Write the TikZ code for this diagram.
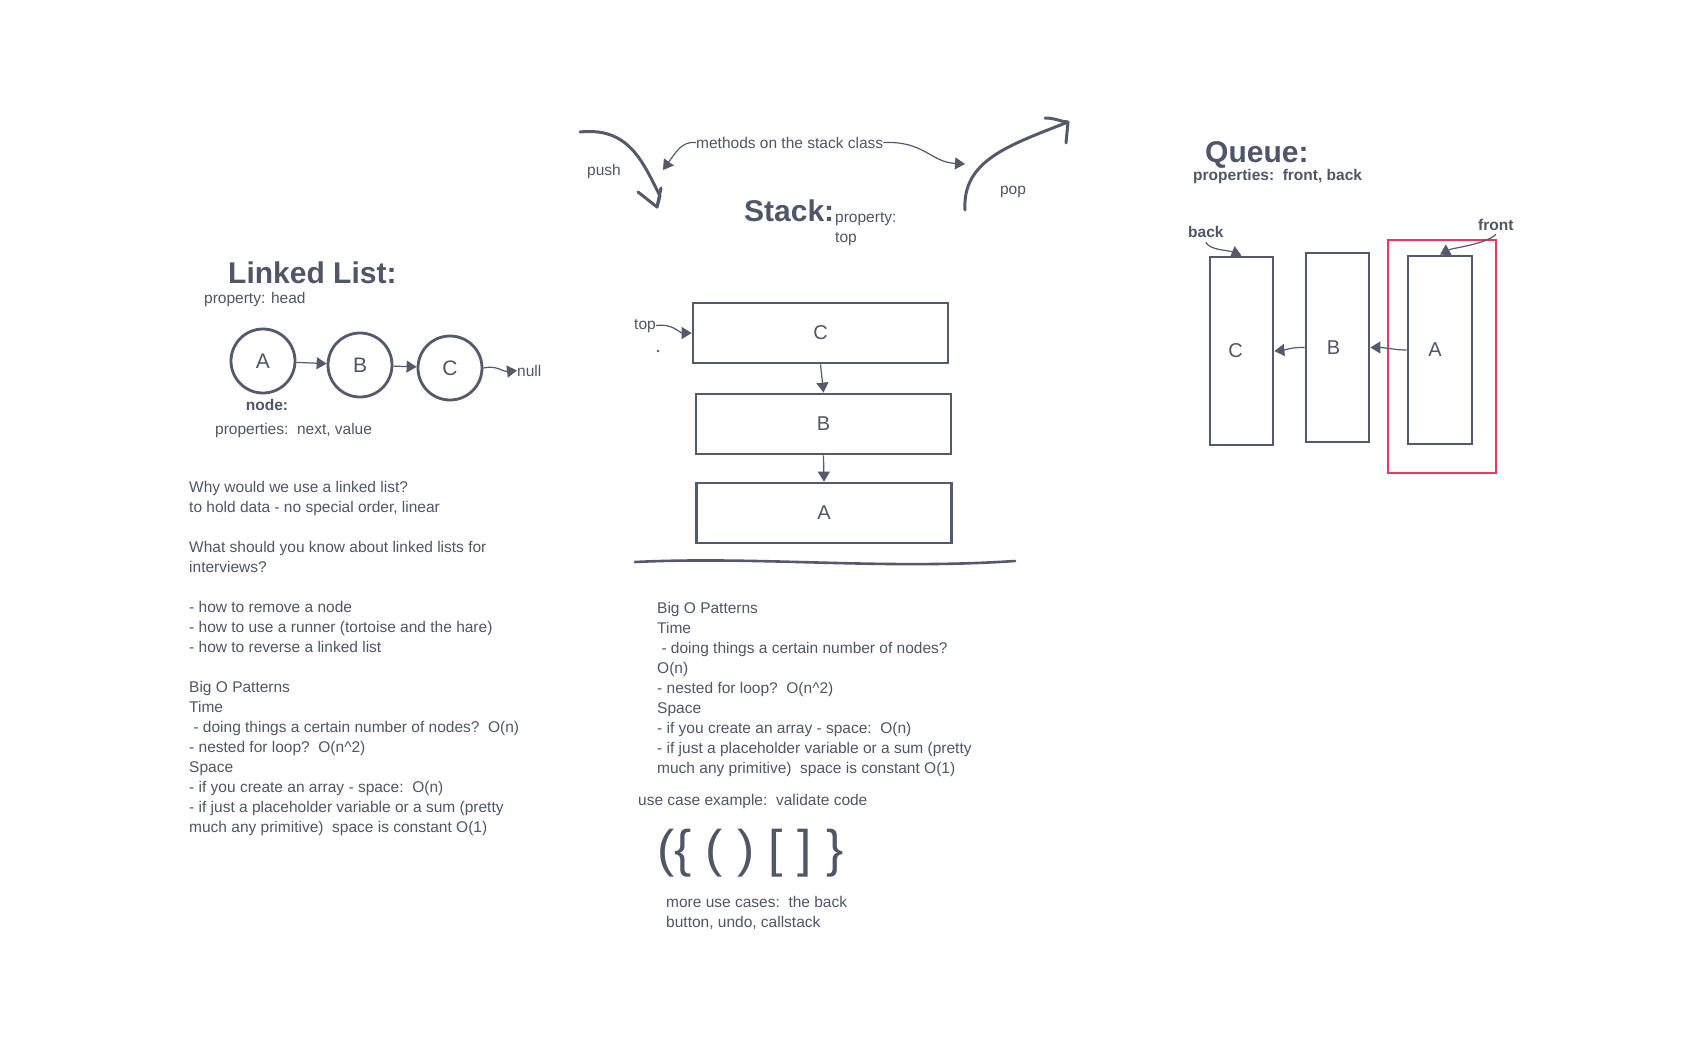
\documentclass[tikz,border=0pt]{standalone}
\usepackage{fontspec}
\setmainfont{Liberation Sans}
\usetikzlibrary{arrows.meta}
\definecolor{ink}{RGB}{84,90,108}
\definecolor{txtc}{RGB}{80,86,104}
\definecolor{redbox}{RGB}{240,52,94}
\begin{document}
\begin{tikzpicture}[x=1pt,y=-1pt,
  txt/.style={text=txtc, font=\fontsize{15.5}{20}\selectfont, inner sep=0pt, align=left},
  btxt/.style={text=txtc, font=\bfseries\fontsize{15.5}{20}\selectfont, inner sep=0pt},
  ttl/.style={text=txtc, font=\bfseries\fontsize{30}{36}\selectfont, inner sep=0pt},
  llnode/.style={circle, draw=ink, line width=2.8pt, minimum size=64pt, inner sep=0pt, font=\fontsize{21}{24}\selectfont, text=txtc},
  sbox/.style={rectangle, draw=ink, line width=2.8pt, minimum width=255pt, minimum height=60pt, inner sep=0pt, font=\fontsize{20}{24}\selectfont, text=txtc},
  qbox/.style={rectangle, draw=ink, line width=2.8pt, minimum width=63pt, minimum height=188pt, inner sep=0pt, font=\fontsize{20}{24}\selectfont, text=txtc},
  con/.style={draw=ink, line width=1.2pt, -{Triangle[length=10pt,width=12pt]}},
  sketch/.style={draw=ink, line width=3pt, line cap=round, line join=round}]
\useasboundingbox[fill=white] (0,0) rectangle (1702,1050);

% ---------------- Linked list ----------------
\node[ttl, anchor=base west] (lltitle) at (228,283) {Linked List:};
\node[txt, anchor=base west] (llprop) at (204,303) {property: head};
\node[llnode] (lA) at (263,361) {A};
\node[llnode] (lB) at (360,365) {B};
\node[llnode] (lC) at (450,368) {C};
\node[txt, anchor=base west] (lnull) at (517,376) {null};
\draw[con] (lA) -- (lB);
\draw[con] (lB) -- (lC);
\draw[con] (lC.east) .. controls (497,365) and (503,372) .. (lnull.west);
\node[btxt, anchor=base] (lnodel) at (267,410) {node:};
\node[txt, anchor=base west] (lnprop) at (215,434) {properties:\ \ next, value};

\node[txt, anchor=north west] (lltext) at (189,481) {Why would we use a linked list?\\
to hold data - no special order, linear\\
\\
What should you know about linked lists for\\
interviews?\\
\\
- how to remove a node\\
- how to use a runner (tortoise and the hare)\\
- how to reverse a linked list\\
\\
Big O Patterns\\
Time\\
\ - doing things a certain number of nodes?\ \ O(n)\\
- nested for loop?\ \ O(n\textasciicircum2)\\
Space\\
- if you create an array - space:\ \ O(n)\\
- if just a placeholder variable or a sum (pretty\\
much any primitive)\ \ space is constant O(1)};

% ---------------- Stack ----------------
\node[ttl, anchor=base west] (sttitle) at (744,221) {Stack:};
\node[txt, anchor=north west] (stprop) at (835,212) {property:\\top};
\node[txt, anchor=base] (pushl) at (604,175) {push};
\node[txt, anchor=base] (popl) at (1013,194) {pop};
\node[txt, anchor=base west] (meth) at (696,148) {methods on the stack class};
\coordinate (mtl) at (663,170);
\coordinate (mtr) at (965,164);
\draw[con] (meth.west) .. controls (682,141) and (676,152) .. (mtl);
\draw[con] (meth.east) .. controls (925,141) and (930,162) .. (mtr);

% push sketch arrow
\coordinate (ps0) at (580,132);
\coordinate (ps1) at (660,196);
\coordinate (psv) at (657,207);
\draw[sketch] (ps0) .. controls (628,127) and (642,160) .. (ps1) -- (psv);
\draw[sketch] (638,192) -- (psv) -- (661,188);
% pop sketch arrow
\coordinate (po0) at (965,210);
\coordinate (pov) at (1068,122);
\draw[sketch] (po0) .. controls (962,160) and (1010,145) .. (pov);
\draw[sketch] (1045,118) .. controls (1055,118) and (1062,122) .. (pov) -- (1066,143);

\node[sbox] (sC) at (820.5,333) {C};
\node[sbox] (sB) at (823.5,424) {B};
\node[sbox] (sA) at (824,513) {A};
\draw[con] (sC.south) -- (sB.north);
\draw[con] (sB.south) -- (sA.north);
\node[txt, anchor=base west] (stopl) at (634,329) {top};
\draw[con] (stopl.east) .. controls (672,323) and (680,333) .. (sC.west);
\fill[ink] (658,351) circle (1.4pt);
\draw[ink, line width=2.6pt, line cap=round] (635,562) .. controls (760,556) and (880,570) .. (1015,561);

\node[txt, anchor=north west] (sttext) at (657,602.5) {Big O Patterns\\
Time\\
\ - doing things a certain number of nodes?\\
O(n)\\
- nested for loop?\ \ O(n\textasciicircum2)\\
Space\\
- if you create an array - space:\ \ O(n)\\
- if just a placeholder variable or a sum (pretty\\
much any primitive)\ \ space is constant O(1)};
\node[txt, anchor=base west] (usecase) at (638,805) {use case example:\ \ validate code};
\node[text=txtc, font=\fontsize{51.5}{56}\selectfont, inner sep=0pt, anchor=base west] (brackets) at (657,866) {(\{ ( ) [ ] \}};
\node[txt, anchor=north west] (moreuse) at (666,896.5) {more use cases:\ \ the back\\button, undo, callstack};

% ---------------- Queue ----------------
\node[ttl, anchor=base west] (qtitle) at (1205,162) {Queue:};
\node[btxt, anchor=base west] (qprop) at (1193,180) {properties:\ \ front, back};
\node[qbox] (qC) at (1241.5,351) {C\hspace*{12pt}};
\node[qbox, minimum height=189pt] (qB) at (1337.5,347.5) {B\hspace*{8pt}};
\node[qbox, minimum width=64pt] (qA) at (1440,350) {A\hspace*{10pt}};
\draw[redbox, line width=2.6pt] (1388,240) rectangle (1496,473);
\draw[con] (qA.west) .. controls (1395,350) and (1385,347.5) .. (qB.east);
\draw[con] (qB.west) .. controls (1292,347) and (1285,350) .. (qC.east);
\node[btxt, anchor=base west] (qback) at (1188,237) {back};
\node[btxt, anchor=base west] (qfront) at (1478,230) {front};
\draw[con] ([yshift=-5pt]qback.south) .. controls +(4,8) and (1228,250) .. (qC.north);
\draw[con] ([yshift=-4pt]qfront.south) .. controls +(-10,10) and (1452,248) .. (qA.north);
\end{tikzpicture}
\end{document}
